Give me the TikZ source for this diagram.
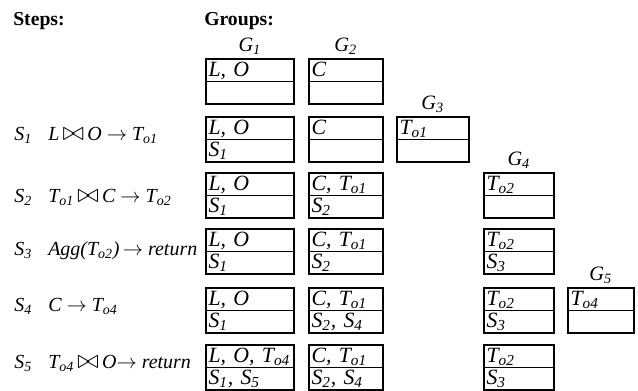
\documentclass[tikz,border=0pt]{standalone}
\usepackage{fontspec}
\setmainfont{Liberation Serif}
\usetikzlibrary{positioning,shapes.multipart}

\newcommand{\ix}[1]{\textsubscript{#1}}
\newcommand{\cellstrut}{\rule[-3pt]{0pt}{14.9pt}}
\newcommand{\jn}{\,\raisebox{-0.5pt}{\scalebox{1.3}{$\bowtie$}}}
\newcommand{\arr}{$\rightarrow$}

\begin{document}
\begin{tikzpicture}[x=0.025cm, y=-0.025cm,
  grp/.style={rectangle split, rectangle split parts=2, draw, line width=1.1pt,
    anchor=north west, inner xsep=2pt, inner ysep=0pt, align=left,
    font=\fontsize{15.5}{16}\selectfont\itshape},
  colA/.style={grp, text width=58.6pt},
  colB/.style={grp, text width=48.6pt},
  colC/.style={grp, text width=47.2pt},
  colD/.style={grp, text width=45.8pt},
  colE/.style={grp, text width=42.9pt},
  hdr/.style={anchor=base west, inner sep=0pt, font=\fontsize{14}{16}\selectfont\bfseries},
  glbl/.style={inner sep=0pt, font=\fontsize{14.5}{16}\selectfont\itshape},
  stp/.style={anchor=base west, inner sep=0pt, font=\fontsize{14.2}{16}\selectfont\itshape}]
  \useasboundingbox (0,0) rectangle (638,390);

  % headers
  \node[hdr] (steps) at (13,25) {Steps:};
  \node[hdr] (groups) at (204,25) {Groups:};

  % initial state
  \node[colA] (a0) at (205,58) {\cellstrut L, O \nodepart{two}\cellstrut};
  \node[colB] (b0) at (308,58) {\cellstrut C \nodepart{two}\cellstrut};

  % S1
  \node[colA] (a1) at (205,116) {\cellstrut L, O \nodepart{two}\cellstrut S\ix{1}};
  \node[colB] (b1) at (308,116) {\cellstrut C \nodepart{two}\cellstrut};
  \node[colC] (c1) at (396,116) {\cellstrut T\ix{o1} \nodepart{two}\cellstrut};

  % S2
  \node[colA] (a2) at (205,172) {\cellstrut L, O \nodepart{two}\cellstrut S\ix{1}};
  \node[colB] (b2) at (308,172) {\cellstrut C, T\ix{o1} \nodepart{two}\cellstrut S\ix{2}};
  \node[colD] (d2) at (483,172) {\cellstrut T\ix{o2} \nodepart{two}\cellstrut};

  % S3
  \node[colA] (a3) at (205,228) {\cellstrut L, O \nodepart{two}\cellstrut S\ix{1}};
  \node[colB] (b3) at (308,228) {\cellstrut C, T\ix{o1} \nodepart{two}\cellstrut S\ix{2}};
  \node[colD] (d3) at (483,228) {\cellstrut T\ix{o2} \nodepart{two}\cellstrut S\ix{3}};

  % S4
  \node[colA] (a4) at (205,287) {\cellstrut L, O \nodepart{two}\cellstrut S\ix{1}};
  \node[colB] (b4) at (308,287) {\cellstrut C, T\ix{o1} \nodepart{two}\cellstrut S\ix{2}, S\ix{4}};
  \node[colD] (d4) at (483,287) {\cellstrut T\ix{o2} \nodepart{two}\cellstrut S\ix{3}};
  \node[colE] (e4) at (567,287) {\cellstrut T\ix{o4} \nodepart{two}\cellstrut};

  % S5
  \node[colA] (a5) at (205,344) {\cellstrut L, O, T\ix{o4} \nodepart{two}\cellstrut S\ix{1}, S\ix{5}};
  \node[colB] (b5) at (308,344) {\cellstrut C, T\ix{o1} \nodepart{two}\cellstrut S\ix{2}, S\ix{4}};
  \node[colD] (d5) at (483,344) {\cellstrut T\ix{o2} \nodepart{two}\cellstrut S\ix{3}};

  % group labels
  \node[glbl, above=2pt of a0] (g1) {G\ix{1}};
  \node[glbl, above=2pt of b0] (g2) {G\ix{2}};
  \node[glbl, above=2pt of c1] (g3) {G\ix{3}};
  \node[glbl, above=2pt of d2] (g4) {G\ix{4}};
  \node[glbl, above=2pt of e4] (g5) {G\ix{5}};

  % steps
  \node[stp] (s1) at (14,140) {S\ix{1}};
  \node[stp] (q1) at (48,140) {L\jn\,O \arr{} T\ix{o1}};
  \node[stp] (s2) at (14,202) {S\ix{2}};
  \node[stp] (q2) at (48,202) {T\ix{o1}\jn\,C \arr{} T\ix{o2}};
  \node[stp] (s3) at (14,255) {S\ix{3}};
  \node[stp] (q3) at (48,255) {Agg(T\ix{o2})\,\arr{} return};
  \node[stp] (s4) at (14,311) {S\ix{4}};
  \node[stp] (q4) at (48,311) {C \arr{} T\ix{o4}};
  \node[stp] (s5) at (14,368) {S\ix{5}};
  \node[stp] (q5) at (48,368) {T\ix{o4}\jn\,O\arr{} return};
\end{tikzpicture}
\end{document}
